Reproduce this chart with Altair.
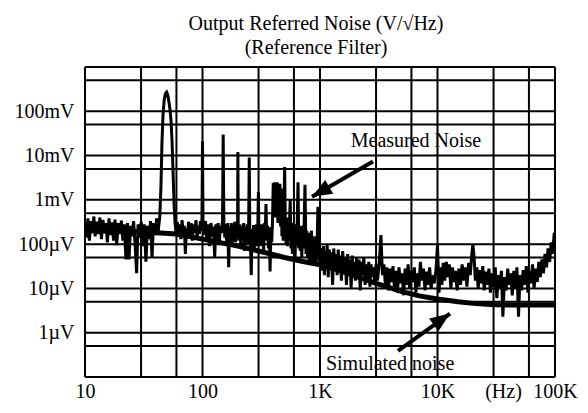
import altair as alt
import pandas as pd

FONT = "Liberation Serif"

# Measured noise (Hz, µV/√Hz)
meas_f = [10, 10.3, 10.6, 10.9, 11.2, 11.5, 11.9, 12.2, 12.6, 13.0, 13.4, 13.8, 14.2, 14.6, 15.1, 15.5,
          16.0, 16.5, 17.0, 17.5, 18.0, 18.6, 19.2, 19.8, 20.4, 21.0, 21.6, 22.3, 23.0, 23.7, 24.4, 25.1,
          25.9, 26.7, 27.5, 28.3, 29.2, 30.1, 31.0, 32.0, 33.0, 34.0, 35.0, 36.1, 37.2, 38.3, 39.5, 40.7,
          42.0, 43.3,
          44.3, 45.2, 46.2, 47.2, 48.3, 49.5, 50.7, 51.8, 52.9, 54.0, 55.1, 56.2, 57.3, 58.4,
          59.5, 61, 62.5, 64, 65.5, 67, 68.5, 70, 71.5, 73, 74.5, 76, 78, 80, 82, 84, 86, 88, 90, 92, 94, 96, 97.5,
          99, 100, 101,
          103, 106, 109, 112, 115, 118, 121, 124, 127, 130, 133, 136, 139, 142, 145,
          148, 150, 152,
          155, 158, 161, 164, 167, 170, 173, 176, 179, 182, 185, 188, 191, 194, 197,
          199, 200, 201.5,
          204, 208, 212, 216, 220, 224, 228, 232, 236, 240, 244, 247,
          250, 252.5,
          256, 260, 264, 268, 272, 276, 280, 284, 288, 292, 296,
          299, 302,
          306, 311, 316, 321, 326, 331, 336, 341, 347, 352, 358, 364, 370, 376, 382, 388, 394,
          400, 405, 410, 415, 420, 426, 432, 438, 444, 450, 456, 462, 468, 474, 480, 486,
          493, 500, 507,
          514, 521, 528, 535, 542, 550, 558, 566, 574, 582, 590, 598, 606, 614, 622, 630, 638,
          650, 660,
          670, 680, 690, 700, 710, 720, 730,
          745, 760,
          772, 784, 796, 808, 820, 833, 846, 859, 872, 886, 900, 914, 928, 942,
          960, 975,
          990, 1010, 1030, 1050, 1070, 1090, 1110, 1130, 1150, 1175, 1200, 1225, 1250, 1280, 1310, 1340,
          1370, 1400, 1430, 1460, 1490, 1520, 1560, 1600, 1640, 1680, 1720, 1760, 1800, 1840, 1880, 1920,
          1960, 2000, 2050, 2100, 2150, 2200, 2250, 2300, 2360, 2420, 2480, 2540, 2600, 2660, 2720, 2790,
          2860, 2930, 3000, 3080,
          3200, 3300, 3400,
          3500, 3600, 3700, 3820, 3940, 4060, 4180, 4300, 4430, 4560, 4700, 4850, 5000, 5150, 5300, 5460,
          5620, 5800, 5980, 6160, 6350, 6550, 6750, 6950, 7150, 7370, 7600, 7830, 8070, 8320, 8570, 8830,
          9100, 9380, 9700,
          10000, 10300,
          10600, 10900, 11200, 11500, 11900, 12200, 12600, 13000, 13400, 13800, 14200, 14700, 15200, 15700,
          16200, 16700, 17200, 17800, 18400, 19000,
          19600, 20000, 20500, 21000,
          21600, 22200, 22900, 23600, 24300, 25000, 25800, 26600, 27400, 28200, 29100, 30000, 31000, 32000,
          33000, 34000, 35000, 36000, 37200, 38400, 39600, 40800, 42000, 43300, 44600, 46000, 47400, 48900,
          50400, 52000, 53600, 55200, 57000, 58800, 60600, 62500, 64400, 66400, 68500, 70600, 72800, 75000,
          77300, 79700, 82200, 84700, 87300, 90000, 92800, 95600, 98500, 100000]

meas_v = [250, 140, 380, 120, 330, 190, 420, 150, 320, 170, 400, 130, 350, 200, 300, 110,
          380, 160, 310, 120, 360, 95, 300, 170, 340, 120, 280, 45, 300, 45, 260, 150,
          330, 100, 22, 280, 140, 320, 90, 280, 40, 260, 130, 330, 50, 300, 160, 380,
          200, 420,
          2000, 20000, 90000, 180000, 250000, 270000, 230000, 160000, 110000, 60000, 20000, 4000, 800, 300,
          180, 320, 150, 280, 130, 350, 170, 260, 60, 230, 140, 320, 160, 300, 120, 280, 180, 350, 140, 260, 170, 330, 200,
          400, 21000, 350,
          160, 330, 130, 280, 90, 300, 150, 250, 50, 280, 120, 300, 100, 260, 180,
          350, 30000, 300,
          140, 280, 100, 300, 30, 250, 130, 300, 90, 260, 150, 320, 110, 280, 160,
          300, 12000, 250,
          120, 280, 90, 260, 140, 300, 70, 240, 120, 280, 100, 250,
          9000, 200,
          100, 20, 220, 110, 270, 80, 240, 130, 280, 90, 300,
          1500, 150,
          250, 90, 280, 120, 230, 70, 300, 140, 800, 120, 260, 80, 240, 24, 200, 110, 300,
          2400, 500, 2500, 400, 2200, 600, 2500, 300, 2000, 500, 2300, 250, 1800, 150, 900, 120,
          300, 5500, 250,
          100, 350, 90, 400, 120, 300, 1000, 80, 280, 60, 300, 100, 250, 50, 280, 90, 200,
          2500, 80,
          220, 70, 260, 50, 200, 80, 180,
          2200, 60,
          200, 50, 180, 40, 160, 60, 200, 40, 150, 50, 130, 35, 150, 60,
          700, 40,
          110, 30, 80, 25, 90, 20, 70, 35, 100, 18, 75, 30, 65, 12, 80, 25,
          60, 20, 75, 28, 55, 15, 70, 22, 50, 12, 60, 20, 45, 10, 55, 22,
          40, 15, 50, 18, 45, 9, 40, 20, 50, 12, 35, 15, 40, 11, 35, 18,
          30, 12, 35, 15,
          40, 160, 20,
          35, 12, 30, 9, 28, 14, 32, 10, 25, 8, 30, 13, 22, 7, 28, 12,
          35, 10, 25, 14, 30, 8, 22, 11, 40, 15, 28, 9, 24, 12, 30, 10,
          20, 13, 25,
          95, 8,
          30, 12, 38, 15, 40, 18, 35, 10, 30, 14, 25, 9, 28, 12,
          35, 15, 30, 11, 38, 20,
          60, 100, 50, 15,
          30, 10, 26, 13, 32, 9, 24, 12, 28, 8, 22, 11, 30, 6,
          20, 10, 25, 2.3, 18, 9, 28, 12, 22, 7, 25, 10, 30, 2.3,
          20, 9, 26, 12, 32, 8, 25, 13, 35, 10, 28, 14, 40, 18,
          45, 22, 60, 30, 80, 40, 110, 60, 180, 150]

# Simulated noise (Hz, µV/√Hz)
sim_f = [10, 30, 60, 100, 200, 300, 500, 700, 1000, 1500, 2000, 3000, 5000, 7000, 10000, 15000,
         20000, 30000, 50000, 100000]
sim_v = [200, 190, 170, 130, 90, 70, 50, 41, 34, 25, 19, 13, 8.5, 6.8, 5.8, 5.0,
         4.6, 4.3, 4.2, 4.2]

# Grid / tick values
x_grid = [10, 30, 60, 100, 300, 600, 1000, 3000, 6000, 10000, 30000, 60000, 100000]
x_label_vals = [10, 100, 1000, 10000, 100000]
x_label_txt = ["10", "100", "1K", "10K", "100K"]
y_grid = [1e6, 5e5, 1e5, 5e4, 1e4, 5e3, 1e3, 500, 100, 50, 10, 5, 1, 0.5, 0.1]
y_label_vals = [1e5, 1e4, 1e3, 100, 10, 1]
y_label_txt = ["100mV", "10mV", "1mV", "100µV", "10µV", "1µV"]

# Annotations (Hz, µV)
ann_text = ["Measured Noise", "Simulated noise"]
ann_f = [6560, 3950]
ann_v = [20800, 0.2]
arrow_f1 = [2825, 4610]
arrow_v1 = [7310, 0.39]
arrow_f2 = [855, 12770]
arrow_v2 = [1170, 2.7]


def label_expr(vals, txts):
    parts = [f"datum.value == {v} ? '{t}'" for v, t in zip(vals, txts)]
    return " : ".join(parts) + " : ''"


meas = pd.DataFrame({"f": meas_f, "v": meas_v})
sim = pd.DataFrame({"f": sim_f, "v": sim_v})
ann = pd.DataFrame({"f": ann_f, "v": ann_v, "t": ann_text})
arrows = pd.DataFrame({"f": arrow_f1, "v": arrow_v1, "f2": arrow_f2, "v2": arrow_v2})
xg = pd.DataFrame({"f": x_grid})
yg = pd.DataFrame({"v": y_grid})

xs = alt.Scale(type="log", domain=[10, 100000], nice=False)
ys = alt.Scale(type="log", domain=[0.1, 1e6], nice=False)

x_axis = alt.Axis(values=x_label_vals, labelExpr=label_expr(x_label_vals, x_label_txt),
                  grid=False, ticks=False, domain=False, labelFont=FONT, labelFontSize=20,
                  labelColor="black", labelPadding=4, labelFlush=False, labelOverlap=False,
                  title="(Hz)", titleFont=FONT, titleFontSize=20, titleFontWeight="normal",
                  titleColor="black", titleX=418, titleY=14, titleAlign="center",
                  titleBaseline="middle")
y_axis = alt.Axis(values=y_label_vals, labelExpr=label_expr(y_label_vals, y_label_txt),
                  grid=False, ticks=False, domain=False, labelFont=FONT, labelFontSize=20,
                  labelColor="black", labelPadding=11, labelFlush=False, labelOverlap=False,
                  title=None)

vgrid = alt.Chart(xg).mark_rule(color="black", strokeWidth=2).encode(
    x=alt.X("f:Q", scale=xs, axis=x_axis),
)
hgrid = alt.Chart(yg).mark_rule(color="black", strokeWidth=2).encode(
    y=alt.Y("v:Q", scale=ys, axis=y_axis),
)

meas_line = alt.Chart(meas).mark_line(color="black", strokeWidth=3, clip=True).encode(
    x=alt.X("f:Q", scale=xs), y=alt.Y("v:Q", scale=ys), order="f:Q",
)

sim_line = alt.Chart(sim).mark_line(color="black", strokeWidth=5, clip=True).encode(
    x=alt.X("f:Q", scale=xs), y=alt.Y("v:Q", scale=ys), order="f:Q",
)

texts = alt.Chart(ann).mark_text(font=FONT, fontSize=20, color="black").encode(
    x=alt.X("f:Q", scale=xs), y=alt.Y("v:Q", scale=ys), text="t:N",
)

shafts = alt.Chart(arrows).mark_rule(color="black", strokeWidth=4).encode(
    x=alt.X("f:Q", scale=xs), y=alt.Y("v:Q", scale=ys),
    x2="f2:Q", y2="v2:Q",
)

HEAD = "M0,0 L0.6,1.5 L-0.6,1.5 Z"
head1 = alt.Chart(arrows.iloc[[0]]).mark_point(shape=HEAD, filled=True, color="black",
                                               opacity=1, size=700, angle=240).encode(
    x=alt.X("f2:Q", scale=xs), y=alt.Y("v2:Q", scale=ys),
)
head2 = alt.Chart(arrows.iloc[[1]]).mark_point(shape=HEAD, filled=True, color="black",
                                               opacity=1, size=700, angle=55).encode(
    x=alt.X("f2:Q", scale=xs), y=alt.Y("v2:Q", scale=ys),
)

chart = alt.layer(vgrid, hgrid, meas_line, sim_line, shafts, head1, head2, texts).properties(
    width=470, height=310,
    title=alt.TitleParams(
        text=["Output Referred Noise (V/√Hz)", "(Reference Filter)"],
        font=FONT, fontSize=20, fontWeight="normal", color="black",
        anchor="middle", offset=8, lineHeight=24, dx=-4,
    ),
    autosize=alt.AutoSizeParams(type="none"),
    padding={"left": 77, "top": 59, "right": 25, "bottom": 26},
).configure_view(
    stroke="black", strokeWidth=2.5
).configure(background="white")

chart.save("out.html", embed_options={"renderer": "svg", "actions": False})
